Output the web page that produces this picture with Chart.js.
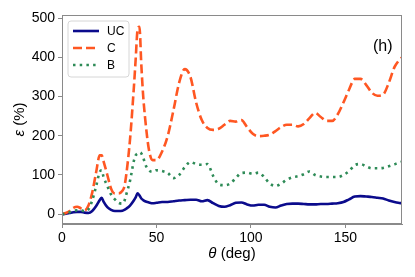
<!DOCTYPE html>
<html>
<head>
<meta charset="utf-8">
<script src="https://cdn.jsdelivr.net/npm/chart.js@4.4.1/dist/chart.umd.min.js"></script>
<style>
html,body{margin:0;padding:0;background:#fff;}
#wrap{width:415px;height:277px;position:relative;}
</style>
</head>
<body>
<div id="wrap"><canvas id="c" width="415" height="277"></canvas></div>
<script>
const theta = [0,2,4,6,8,10,12,14,16,18,20,21,22,24,26,28,30,32,33,34,36,38,39,40,41,42,43,44,46,48,50,53,56,59,62,65,68,71,74,77,80,83,86,89,92,95,98,101,104,107,110,113,116,119,122,125,128,131,134,137,140,143,146,149,152,155,158,161,164,167,170,173,176,178,180];
const seriesC = [0,3,8,16,19,15,10,22,55,105,150,150,135,100,65,53,53,60,70,100,190,320,395,470,478,380,300,245,165,138,138,160,200,265,335,370,350,285,240,220,215,218,228,238,236,240,222,205,199,200,203,212,222,228,228,224,230,245,258,248,238,238,255,285,318,345,345,330,310,302,305,335,375,390,400];
const seriesB = [0,2,5,8,10,10,8,12,35,70,108,112,95,72,50,38,29,27,33,50,85,135,150,155,158,155,145,128,112,108,112,110,105,92,100,120,133,128,126,128,98,76,74,78,92,105,106,103,106,95,78,72,78,88,94,97,102,109,100,96,95,95,95,100,110,125,128,122,117,117,118,122,127,131,134];
const seriesUC = [0,1,3,5,6,6,4,3,8,20,36,42,32,18,11,8,8,9,11,14,22,35,43,53,48,40,36,33,30,28,29,31,31,33,35,36,37,37,33,36,28,21,19,23,29,30,25,22,24,24,19,17,22,26,27,27,26,25,25,26,26,27,28,31,38,45,46,45,44,42,40,35,31,29,28];
const xTicks = [0,50,100,150];
const yTicks = [0,100,200,300,400,500];
const labels = ['UC','C','B'];

const FONT = "'Liberation Sans', Arial, sans-serif";
const toPts = arr => theta.map((t,i)=>({x:t,y:arr[i]}));

const styles = [
  {color:'#0b0b8c', dash:[], width:2.6, order:3},
  {color:'#ff5722', dash:[9,4], width:2.6, order:2},
  {color:'#2e8b57', dash:[2.5,4.2], width:2.6, order:1}
];
const allData = [seriesUC, seriesC, seriesB];

const datasets = allData.map((d,i)=>({
  label: labels[i],
  data: toPts(d),
  borderColor: styles[i].color,
  borderDash: styles[i].dash,
  borderWidth: styles[i].width,
  pointRadius: 0,
  fill: false,
  tension: 0.4,
  cubicInterpolationMode: 'monotone',
  order: styles[i].order
}));

const decor = {
  id:'decor',
  afterDraw(chart){
    const ctx = chart.ctx, a = chart.chartArea;
    ctx.save();
    // frame
    ctx.strokeStyle = '#8a8a8a';
    ctx.lineWidth = 1;
    ctx.strokeRect(a.left+0.5, a.top+0.5, a.right-a.left-1, a.bottom-a.top-1);
    // legend
    const lx=68, ly=21, lw=61, lh=56, r=3;
    ctx.beginPath();
    ctx.moveTo(lx+r,ly);ctx.lineTo(lx+lw-r,ly);ctx.quadraticCurveTo(lx+lw,ly,lx+lw,ly+r);
    ctx.lineTo(lx+lw,ly+lh-r);ctx.quadraticCurveTo(lx+lw,ly+lh,lx+lw-r,ly+lh);
    ctx.lineTo(lx+r,ly+lh);ctx.quadraticCurveTo(lx,ly+lh,lx,ly+lh-r);
    ctx.lineTo(lx,ly+r);ctx.quadraticCurveTo(lx,ly,lx+r,ly);ctx.closePath();
    ctx.fillStyle='rgba(255,255,255,0.85)';ctx.fill();
    ctx.strokeStyle='#d6d6d6';ctx.stroke();
    const rows=[31,48,65];
    ctx.font = '12px '+FONT;
    ctx.textBaseline='middle';
    labels.forEach((lab,i)=>{
      ctx.beginPath();
      ctx.setLineDash(styles[i].dash);
      ctx.strokeStyle=styles[i].color;
      ctx.lineWidth=styles[i].width;
      ctx.moveTo(73,rows[i]);ctx.lineTo(99,rows[i]);ctx.stroke();
      ctx.setLineDash([]);
      ctx.fillStyle='#000';
      ctx.fillText(lab,107,rows[i]+0.5);
    });
    // panel label
    ctx.font='16px '+FONT;
    ctx.textBaseline='alphabetic';
    ctx.textAlign='left';
    ctx.fillText('(h)',373,51);
    // x title
    ctx.font='italic 15px '+FONT;
    const w1=ctx.measureText('θ').width;
    ctx.font='15px '+FONT;
    const w2=ctx.measureText(' (deg)').width;
    let sx=(a.left+a.right)/2-(w1+w2)/2;
    ctx.font='italic 15px '+FONT;ctx.fillText('θ',sx,258);
    ctx.font='15px '+FONT;ctx.fillText(' (deg)',sx+w1,258);
    // y title
    ctx.translate(24,(a.top+a.bottom)/2);
    ctx.rotate(-Math.PI/2);
    ctx.font='italic 15px '+FONT;
    const v1=ctx.measureText('ε').width;
    ctx.font='15px '+FONT;
    const v2=ctx.measureText(' (%)').width;
    sx=-(v1+v2)/2;
    ctx.font='italic 15px '+FONT;ctx.fillText('ε',sx,0);
    ctx.font='15px '+FONT;ctx.fillText(' (%)',sx+v1,0);
    ctx.restore();
  }
};

new Chart(document.getElementById('c'),{
  type:'line',
  data:{datasets},
  options:{
    responsive:false,
    animation:false,
    layout:{padding:{left:0,right:13,top:15,bottom:0}},
    plugins:{legend:{display:false},tooltip:{enabled:false}},
    scales:{
      x:{
        type:'linear',min:0,max:180,
        afterBuildTicks:s=>{s.ticks=xTicks.map(v=>({value:v}));},
        afterFit:s=>{s.height=53;},
        grid:{display:true,drawOnChartArea:false,drawTicks:true,tickLength:4,color:'#8a8a8a'},
        border:{display:true,color:'#8a8a8a'},
        ticks:{color:'#000',font:{family:FONT,size:14},padding:2,maxRotation:0}
      },
      y:{
        type:'linear',min:-25,max:508,
        afterBuildTicks:s=>{s.ticks=yTicks.map(v=>({value:v}));},
        afterFit:s=>{s.width=62;},
        grid:{display:true,drawOnChartArea:false,drawTicks:true,tickLength:4,color:'#8a8a8a'},
        border:{display:true,color:'#8a8a8a'},
        ticks:{color:'#000',font:{family:FONT,size:14},padding:3}
      }
    }
  },
  plugins:[decor]
});
</script>
</body>
</html>
